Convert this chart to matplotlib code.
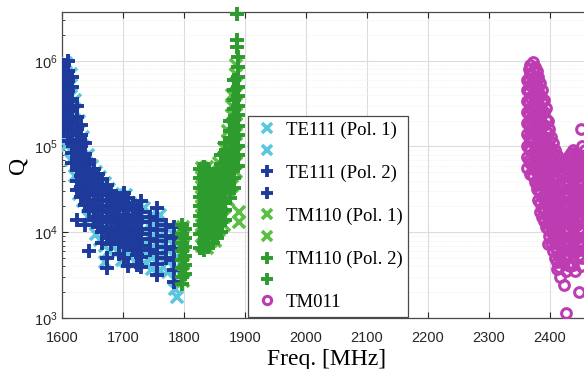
import matplotlib
matplotlib.use("Agg")
import matplotlib.pyplot as plt
from matplotlib.ticker import LogLocator, NullFormatter

plt.rcParams['mathtext.fontset'] = 'custom'
plt.rcParams['mathtext.rm'] = 'Liberation Sans'
plt.rcParams['mathtext.it'] = 'Liberation Sans:italic'

# columns of (freq [MHz], [Q values])
te111_pol1 = [
    (1601, [8.5e5, 6.5e5, 5e5, 3.8e5, 2.9e5, 2.2e5, 1.6e5]),
    (1607, [9.5e5, 7e5, 5.3e5, 4e5, 3e5, 2.3e5, 1.75e5, 1.3e5, 1e5]),
    (1614, [7e5, 5.2e5, 3.9e5, 2.9e5, 2.2e5, 1.65e5, 1.2e5, 9e4, 7e4]),
    (1621, [3.5e5, 2.6e5, 1.9e5, 1.4e5, 1.05e5, 8e4, 6e4, 4.5e4]),
    (1628, [2e5, 1.5e5, 1.1e5, 8.5e4, 6.4e4, 4.8e4, 3.6e4, 2.8e4]),
    (1635, [1.3e5, 9.5e4, 7.2e4, 5.4e4, 4.1e4, 3.1e4, 2.3e4]),
    (1642, [8e4, 6e4, 4.5e4, 3.4e4, 2.6e4, 2e4, 1.5e4]),
    (1649, [6e4, 4.6e4, 3.5e4, 2.6e4, 2e4, 1.5e4]),
    (1656, [5e4, 3.8e4, 2.9e4, 2.2e4, 1.65e4, 1.25e4, 9.5e3]),
    (1663, [4.4e4, 3.3e4, 2.5e4, 1.9e4, 1.45e4, 1.1e4, 8.2e3]),
    (1670, [3.8e4, 2.9e4, 2.2e4, 1.65e4, 1.25e4, 9.5e3, 7e3, 4.5e3]),
    (1677, [3.2e4, 2.4e4, 1.8e4, 1.4e4, 1.05e4, 8e3, 6e3]),
    (1684, [2.8e4, 2.1e4, 1.6e4, 1.2e4, 9e3, 6.8e3]),
    (1691, [2.5e4, 1.9e4, 1.4e4, 1.05e4, 8e3, 6e3]),
    (1698, [2.6e4, 2e4, 1.5e4, 1.1e4, 8.5e3, 6.3e3, 4.7e3]),
    (1705, [2.7e4, 2e4, 1.5e4, 1.15e4, 8.5e3, 6.3e3, 4.6e3]),
    (1712, [2.2e4, 1.65e4, 1.25e4, 9.3e3, 7e3, 5.2e3]),
    (1719, [1.9e4, 1.45e4, 1.1e4, 8e3, 6e3, 4.5e3]),
    (1726, [2e4, 1.5e4, 1.15e4, 8.5e3, 6.3e3, 4.7e3]),
    (1735, [1.9e4, 1.4e4, 1.05e4, 8e3, 6e3, 4.4e3]),
    (1748, [1.6e4, 1.2e4, 9e3, 6.7e3, 5e3, 3.7e3]),
    (1760, [1.6e4, 1.2e4, 9e3, 6.7e3, 5e3, 3.6e3]),
    (1774, [1.1e4, 8.3e3, 6.2e3, 4.6e3, 3.4e3]),
    (1786, [9e3, 6.7e3, 5e3, 3.7e3, 2.8e3, 2.2e3]),
    (1788, [1.75e3]),
]

te111_pol2 = [
    (1603, [9e5, 7e5, 5.5e5, 4.2e5, 3.2e5, 2.5e5, 1.9e5, 1.5e5]),
    (1610, [1e6, 7.5e5, 5.8e5, 4.4e5, 3.4e5, 2.6e5, 2e5, 1.5e5, 1.15e5]),
    (1617, [6.5e5, 4.9e5, 3.6e5, 2.7e5, 2e5, 1.5e5, 1.1e5, 8.5e4, 6.5e4]),
    (1624, [3e5, 2.2e5, 1.6e5, 1.2e5, 9e4, 7e4, 5.3e4, 4e4, 3.1e4, 1.4e4]),
    (1631, [1.8e5, 1.35e5, 1e5, 7.7e4, 5.9e4, 4.5e4, 3.4e4, 2.6e4]),
    (1638, [1.1e5, 8.2e4, 6.2e4, 4.7e4, 3.6e4, 2.7e4, 2.1e4, 1.2e4]),
    (1645, [7e4, 5.3e4, 4e4, 3e4, 2.3e4, 1.75e4, 6e3]),
    (1652, [5.5e4, 4.2e4, 3.2e4, 2.4e4, 1.8e4, 1.4e4]),
    (1659, [4.8e4, 3.6e4, 2.7e4, 2e4, 1.5e4, 1.15e4]),
    (1666, [4.2e4, 3.2e4, 2.4e4, 1.8e4, 1.35e4, 1e4, 7.5e3]),
    (1673, [3.6e4, 2.7e4, 2e4, 1.5e4, 1.1e4, 8.5e3, 5e3, 3.8e3]),
    (1680, [3e4, 2.3e4, 1.7e4, 1.3e4, 9.5e3, 7.2e3]),
    (1687, [2.6e4, 2e4, 1.5e4, 1.1e4, 8.3e3]),
    (1694, [2.4e4, 1.8e4, 1.35e4, 1e4, 7.5e3, 5.6e3]),
    (1702, [2.9e4, 2.2e4, 1.6e4, 1.2e4, 9e3, 6.7e3, 5e3]),
    (1709, [2.5e4, 1.9e4, 1.4e4, 1.05e4, 7.8e3, 4e3]),
    (1716, [2e4, 1.5e4, 1.1e4, 8.3e3, 6.2e3]),
    (1723, [1.8e4, 1.35e4, 1e4, 7.5e3, 5.5e3, 4.2e3]),
    (1730, [2.3e4, 1.7e4, 1.3e4, 9.5e3, 7e3, 5.2e3, 3.9e3]),
    (1744, [1.5e4, 1.1e4, 8.3e3, 6.2e3]),
    (1756, [1.9e4, 1.4e4, 1.05e4, 7.8e3, 5.8e3, 4.3e3, 3.2e3]),
    (1770, [1.2e4, 9e3, 6.8e3, 5e3]),
    (1783, [1.14e4, 8.5e3, 6.4e3, 4.8e3, 3.6e3, 2.6e3]),
]

tm110_pol1 = [
    (1799, [1.15e4, 9e3, 7e3, 5.5e3, 4.3e3, 3.4e3, 2.7e3]),
    (1829, [5.6e4, 4.4e4, 3.4e4, 2.6e4, 2e4, 1.55e4, 1.2e4, 9e3, 7e3]),
    (1837, [5.7e4, 4.4e4, 3.4e4, 2.6e4, 2e4, 1.55e4, 1.2e4, 9e3, 6.5e3]),
    (1844, [5e4, 3.9e4, 3e4, 2.3e4, 1.8e4, 1.4e4, 1.05e4, 8e3]),
    (1851, [4.7e4, 3.6e4, 2.8e4, 2.2e4, 1.7e4, 1.3e4, 1e4, 7.8e3]),
    (1858, [6.5e4, 5e4, 3.9e4, 3e4, 2.3e4, 1.8e4, 1.4e4, 1.05e4]),
    (1865, [9.5e4, 7.3e4, 5.6e4, 4.3e4, 3.3e4, 2.6e4, 2e4, 1.5e4, 1.2e4]),
    (1872, [1.5e5, 1.15e5, 8.8e4, 6.8e4, 5.2e4, 4e4, 3.1e4, 2.4e4]),
    (1879, [4e5, 3e5, 2.3e5, 1.75e5, 1.35e5, 1e5, 7.8e4, 6e4, 4.6e4, 3.5e4]),
    (1886, [9e5, 7e5, 5.4e5, 4.1e5, 3.2e5, 2.4e5, 1.85e5, 1.4e5, 1.1e5, 8.5e4, 6.5e4, 5e4]),
    (1890, [1.3e4, 1.7e4]),
]

tm110_pol2 = [
    (1796, [1.2e4, 9.5e3, 7.5e3, 6e3, 4.8e3, 3.8e3, 3e3, 2.5e3]),
    (1801, [1.1e4, 8.5e3, 6.7e3, 5.3e3, 4.2e3, 3.3e3]),
    (1826, [5.5e4, 4.3e4, 3.3e4, 2.6e4, 2e4, 1.55e4, 1.2e4, 9.5e3, 6.5e3]),
    (1833, [5.8e4, 4.5e4, 3.5e4, 2.7e4, 2.1e4, 1.65e4, 1.3e4, 1e4, 7.5e3, 6.2e3]),
    (1840, [5.5e4, 4.3e4, 3.3e4, 2.6e4, 2e4, 1.55e4, 1.2e4, 9e3, 6.8e3]),
    (1847, [4.5e4, 3.5e4, 2.7e4, 2.1e4, 1.6e4, 1.25e4, 9.5e3, 7.5e3]),
    (1854, [5e4, 3.9e4, 3e4, 2.3e4, 1.8e4, 1.4e4, 1.1e4, 8.5e3]),
    (1861, [8e4, 6.2e4, 4.8e4, 3.7e4, 2.9e4, 2.2e4, 1.7e4, 1.3e4, 1e4]),
    (1868, [1.1e5, 8.5e4, 6.5e4, 5e4, 3.9e4, 3e4, 2.3e4, 1.8e4, 1.4e4]),
    (1875, [2e5, 1.5e5, 1.15e5, 9e4, 7e4, 5.4e4, 4.2e4, 3.2e4, 2.5e4]),
    (1882, [6e5, 4.6e5, 3.5e5, 2.7e5, 2.1e5, 1.6e5, 1.25e5, 9.5e4, 7.3e4, 5.6e4, 4.3e4, 3.3e4]),
    (1888, [1.1e6, 8.5e5, 6.5e5, 5e5, 3.9e5, 3e5, 2.3e5, 1.75e5, 1.35e5, 1e5, 8e4, 6e4]),
    (1887, [1.75e6, 1.45e6, 3.5e6]),
]

tm011 = [
    (2362, [6e5, 4.5e5, 3.4e5, 2.5e5, 1.9e5, 1.4e5, 1e5, 7.5e4, 5.6e4]),
    (2365, [8e5, 5.9e5, 4.4e5, 3.3e5, 2.4e5, 1.8e5, 1.3e5, 9.5e4, 7e4]),
    (2368, [9e5, 7e5, 5.2e5, 3.8e5, 2.8e5, 2.1e5, 1.6e5, 1.2e5, 9e4, 6.5e4, 4.8e4]),
    (2372, [9.7e5, 7.5e5, 5.5e5, 4e5, 3e5, 2.2e5, 1.6e5, 1.2e5, 8.5e4, 6e4, 4.5e4]),
    (2375, [8.5e5, 6.4e5, 4.7e5, 3.5e5, 2.6e5, 1.9e5, 1.4e5, 1e5, 7.3e4, 5.3e4, 3.9e4]),
    (2378, [7.5e5, 5.8e5, 4.3e5, 3.2e5, 2.4e5, 1.8e5, 1.3e5, 9.5e4, 7e4, 5e4, 3.6e4, 3.2e4]),
    (2381, [6.5e5, 4.8e5, 3.6e5, 2.7e5, 2e5, 1.5e5, 1.1e5, 8e4, 5.9e4, 4.3e4, 3.1e4, 2.4e4]),
    (2384, [5.5e5, 4e5, 2.9e5, 2.1e5, 1.5e5, 1.1e5, 8e4, 5.8e4, 4.2e4, 3e4, 2.2e4, 1.7e4]),
    (2387, [4.5e5, 3.3e5, 2.4e5, 1.75e5, 1.3e5, 9.5e4, 6.8e4, 5e4, 3.6e4, 2.6e4, 1.9e4, 1.5e4]),
    (2390, [3.5e5, 2.5e5, 1.8e5, 1.3e5, 9.5e4, 7e4, 5e4, 3.6e4, 2.6e4, 1.9e4, 1.35e4]),
    (2393, [2.8e5, 2.1e5, 1.5e5, 1.1e5, 8e4, 5.9e4, 4.3e4, 3.1e4, 2.2e4, 1.6e4, 1.15e4]),
    (2396, [2e5, 1.45e5, 1.05e5, 7.5e4, 5.5e4, 4e4, 2.9e4, 2.1e4, 1.5e4, 1.1e4, 7.2e3]),
    (2399, [1.6e5, 1.2e5, 8.7e4, 6.3e4, 4.6e4, 3.3e4, 2.4e4, 1.75e4, 1.25e4, 9e3]),
    (2402, [1.3e5, 9.5e4, 7e4, 5e4, 3.6e4, 2.6e4, 1.9e4, 1.4e4, 1e4, 7.5e3]),
    (2405, [1.1e5, 8e4, 5.8e4, 4.2e4, 3e4, 2.2e4, 1.6e4, 1.15e4, 8.2e3, 6e3]),
    (2408, [9e4, 6.5e4, 4.7e4, 3.4e4, 2.5e4, 1.8e4, 1.3e4, 9.5e3, 6.8e3, 5e3]),
    (2411, [8e4, 5.8e4, 4.2e4, 3e4, 2.2e4, 1.6e4, 1.15e4, 8.3e3, 6e3, 4.5e3, 3.7e3]),
    (2414, [7e4, 5e4, 3.7e4, 2.7e4, 2e4, 1.45e4, 1e4, 7.5e3, 5.3e3, 3.9e3]),
    (2417, [6.5e4, 4.8e4, 3.5e4, 2.5e4, 1.85e4, 1.35e4, 9.8e3, 7e3, 5e3, 3e3]),
    (2420, [6e4, 4.5e4, 3.3e4, 2.4e4, 1.75e4, 1.3e4, 9e3, 6.5e3, 4.5e3]),
    (2423, [6.5e4, 4.9e4, 3.6e4, 2.6e4, 1.9e4, 1.4e4, 1e4, 7.3e3, 5e3, 2.4e3]),
    (2426, [7e4, 5.5e4, 4e4, 2.9e4, 2.1e4, 1.5e4, 1.1e4, 7.8e3, 5.5e3, 3.5e3, 1.15e3]),
    (2429, [7.5e4, 5.5e4, 4e4, 2.9e4, 2.1e4, 1.55e4, 1.1e4, 8e3, 5.5e3, 4.2e3]),
    (2432, [8e4, 6e4, 4.4e4, 3.2e4, 2.3e4, 1.7e4, 1.2e4, 8.5e3, 6e3, 4e3]),
    (2435, [8.5e4, 6.2e4, 4.5e4, 3.3e4, 2.4e4, 1.75e4, 1.25e4, 9e3, 6.3e3]),
    (2438, [9e4, 6.5e4, 4.7e4, 3.4e4, 2.5e4, 1.8e4, 1.3e4, 9e3, 6.5e3, 4.2e3]),
    (2441, [8.5e4, 6.2e4, 4.5e4, 3.3e4, 2.4e4, 1.75e4, 1.25e4, 9e3, 6.3e3, 3.5e3]),
    (2444, [8e4, 6e4, 4.4e4, 3.2e4, 2.3e4, 1.7e4, 1.2e4, 8.5e3, 6e3]),
    (2447, [7.5e4, 5.5e4, 4e4, 2.9e4, 2.1e4, 1.55e4, 1.1e4, 8e3, 5.5e3, 2e3]),
    (2450, [1.6e5, 7e4, 5e4, 3.6e4, 2.6e4, 1.9e4, 1.35e4, 1e4, 7e3, 4e3]),
    (2453, [1e5, 7.3e4, 5.3e4, 3.9e4, 2.8e4, 2e4, 1.5e4, 1.05e4, 7.5e3, 5e3]),
    (2457, [9e4, 6.5e4, 4.7e4, 3.4e4, 2.5e4, 1.8e4, 1.3e4, 9e3, 6e3]),
]

labels = ['TE111 (Pol. 1)', '', 'TE111 (Pol. 2)', '', 'TM110 (Pol. 1)', '',
          'TM110 (Pol. 2)', '', 'TM011']
xticks = [1600, 1700, 1800, 1900, 2000, 2100, 2200, 2300, 2400]


def expand(cols):
    f, q = [], []
    for freq, vals in cols:
        for v in vals:
            f.append(freq)
            q.append(v)
    return f, q


fig = plt.figure(figsize=(5.84, 3.69), dpi=100)
ax = fig.add_axes([62 / 584, 51 / 369, 549 / 584, 306 / 369])

styles = [
    (te111_pol1, dict(marker='x', color='#5CC6DE', ms=8, mew=2.6, mfc='none'), True),
    (te111_pol2, dict(marker='+', color='#1E3A9A', ms=10, mew=2.8), True),
    (tm110_pol1, dict(marker='x', color='#5CBF45', ms=8, mew=2.6), True),
    (tm110_pol2, dict(marker='+', color='#2E9B2E', ms=10, mew=2.8), False),
    (tm011, dict(marker='o', color='#BE3CB2', ms=7, mew=2.2, mfc='none'), True),
]

handles = []
for i, (cols, st, clip) in enumerate(styles):
    f, q = expand(cols)
    ln, = ax.plot(f, q, linestyle='none', clip_on=clip, zorder=3 + i, **st)
    handles.append(ln)

ax.set_yscale('log')
ax.set_xlim(1600, 2500)
ax.set_ylim(1e3, 3.7e6)
ax.set_xticks(xticks)
ax.yaxis.set_major_locator(LogLocator(base=10, numticks=10))
ax.yaxis.set_minor_locator(LogLocator(base=10, subs=range(2, 10), numticks=20))
ax.yaxis.set_minor_formatter(NullFormatter())

ax.grid(True, which='major', color='#dcdcdc', linewidth=0.8)
ax.grid(True, which='minor', axis='y', color='#ececec', linewidth=0.6, linestyle=':')
ax.set_axisbelow(True)

ax.tick_params(which='both', direction='in', top=True, right=True,
               colors='#262626', labelsize=10.5)
ax.tick_params(which='major', length=4)
ax.tick_params(which='minor', length=2)
ax.tick_params(axis='x', pad=9)
ax.tick_params(axis='y', pad=3)
for lab in ax.get_xticklabels() + ax.get_yticklabels():
    lab.set_fontfamily('Liberation Sans')
for sp in ax.spines.values():
    sp.set_color('#4a4a4a')
    sp.set_linewidth(0.9)

ax.set_xlabel('Freq. [MHz]', family='Liberation Serif', fontsize=17)
ax.xaxis.set_label_coords(0.481, -0.1)
ax.set_ylabel('Q', family='Liberation Serif', fontsize=17, labelpad=4)

leg_handles = [handles[0], handles[0], handles[1], handles[1], handles[2], handles[2],
               handles[3], handles[3], handles[4]]
leg = ax.legend(leg_handles, labels, loc='upper left',
                bbox_to_anchor=(248 / 584, 1 - 116 / 369), bbox_transform=fig.transFigure,
                prop={'family': 'Liberation Serif', 'size': 13.5}, frameon=True,
                fancybox=False, edgecolor='#4a4a4a', framealpha=1,
                handlelength=1.4, handletextpad=0.3, labelspacing=0.23,
                borderpad=0.3, borderaxespad=0, markerscale=0.85)
leg.get_frame().set_linewidth(0.9)
leg.set_zorder(20)

fig.savefig('out.png', dpi=100)
